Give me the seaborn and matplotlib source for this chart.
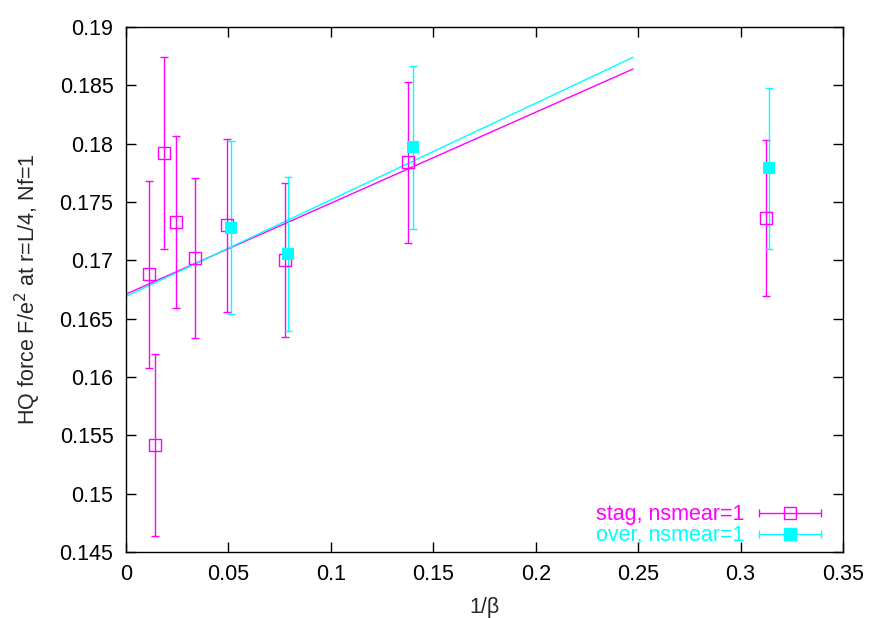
import matplotlib
matplotlib.use("Agg")
import matplotlib.pyplot as plt
from matplotlib.legend_handler import HandlerErrorbar
import seaborn as sns
import numpy as np
import pandas as pd

# Data
stag_x = [0.0112, 0.0142, 0.0185, 0.0244, 0.0337, 0.0493, 0.0776, 0.1377, 0.3124]
stag_y = [0.1688, 0.1542, 0.1792, 0.1733, 0.1702, 0.1730, 0.1700, 0.1784, 0.1736]
stag_err = [0.0080, 0.0078, 0.0082, 0.0074, 0.0069, 0.0074, 0.0066, 0.0069, 0.0067]

over_x = [0.0513, 0.0791, 0.1401, 0.3139]
over_y = [0.1728, 0.1705, 0.1797, 0.1779]
over_err = [0.0074, 0.0066, 0.0070, 0.0069]

fit_x = [0.0, 0.2475]
stag_fit = [0.1671, 0.1864]
over_fit = [0.1669, 0.1874]

x_ticks = [0, 0.05, 0.1, 0.15, 0.2, 0.25, 0.3, 0.35]
y_ticks = [0.145, 0.15, 0.155, 0.16, 0.165, 0.17, 0.175, 0.18, 0.185, 0.19]
x_labels = ["0", "0.05", "0.1", "0.15", "0.2", "0.25", "0.3", "0.35"]
y_labels = ["0.145", "0.15", "0.155", "0.16", "0.165", "0.17", "0.175",
            "0.18", "0.185", "0.19"]

MAG = "#ff00ff"
CYA = "#00ffff"
FS = 15.5

sns.set_theme(style="ticks")
plt.rcParams['font.family'] = ['Liberation Sans', 'DejaVu Sans']

fig = plt.figure(figsize=(8.83, 6.18), dpi=100)
ax = fig.add_axes([126/883, 1-552/618, (843-126)/883, (552-27)/618])

fit_df = pd.DataFrame({"x": fit_x + fit_x,
                       "y": stag_fit + over_fit,
                       "s": ["stag"]*2 + ["over"]*2})
sns.lineplot(data=fit_df, x="x", y="y", hue="s", palette={"stag": MAG, "over": CYA},
             ax=ax, legend=False, lw=1)

ax.errorbar(stag_x, stag_y, yerr=stag_err, fmt="none", ecolor=MAG, elinewidth=1,
            capsize=2.8, capthick=1, zorder=3)
sns.scatterplot(x=stag_x, y=stag_y, ax=ax, marker="s", s=72, facecolors="none",
                edgecolor=MAG, linewidth=1, zorder=4)
ax.errorbar(over_x, over_y, yerr=over_err, fmt="none", ecolor=CYA, elinewidth=1,
            capsize=2.8, capthick=1, zorder=3)
sns.scatterplot(x=over_x, y=over_y, ax=ax, marker="s", s=72, color=CYA,
                edgecolor=CYA, linewidth=0, zorder=5)

# legend handles (gnuplot-style horizontal error bars)
h1 = ax.errorbar([np.nan], [np.nan], xerr=[0.01], fmt="s", color=MAG, mfc="none",
                 mec=MAG, ms=8.5, elinewidth=1, capsize=2.8, capthick=1)
h2 = ax.errorbar([np.nan], [np.nan], xerr=[0.01], fmt="s", color=CYA, mfc=CYA,
                 mec=CYA, ms=8.5, elinewidth=1, capsize=2.8, capthick=1)
leg = ax.legend([h1, h2], ["stag, nsmear=1", "over, nsmear=1"], loc="lower right",
                bbox_to_anchor=(0.997, -0.026), frameon=False, markerfirst=False,
                handlelength=2.9, handletextpad=0.7, labelspacing=0.0,
                fontsize=FS, labelcolor=[MAG, CYA],
                handler_map={type(h1): HandlerErrorbar(xerr_size=1.45)})

ax.set_xlim(0, 0.35)
ax.set_ylim(0.145, 0.19)
ax.set_xticks(x_ticks)
ax.set_xticklabels(x_labels)
ax.set_yticks(y_ticks)
ax.set_yticklabels(y_labels)
ax.tick_params(direction="in", length=7, width=1, top=True, right=True,
               labelsize=FS, colors="black", pad=9)
for sp in ax.spines.values():
    sp.set_color("black")
    sp.set_linewidth(1)
ax.set_xlabel("1/β", fontsize=FS, labelpad=8)
ax.set_ylabel("HQ force F/e$^2$ at r=L/4, Nf=1", fontsize=FS, labelpad=12)

fig.savefig("out.png", dpi=100)
